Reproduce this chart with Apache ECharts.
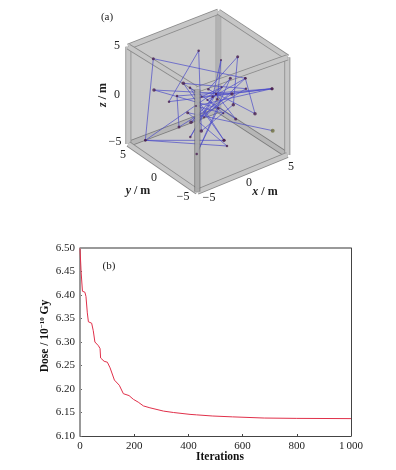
<!DOCTYPE html>
<html lang="en">
	<head>
		<meta charset="UTF-8">
		<title>Dose optimisation</title>
		<style type="text/css">
			html,body{
				margin:0;
				padding:0;
				background:#fff;
			}
			#main{
				width:396px;
				height:470px;
			}
		</style>
	</head>
	<body>
		<div id="main"></div>
		<script type="text/javascript" src="https://cdn.jsdelivr.net/npm/echarts@6/dist/echarts.min.js"></script>
		<script type="text/javascript">
		var FONT = '"Liberation Serif", serif';

		// (b) dose curve
		var iterations = [0,4,9,18,22,27,31,43,49,55,68,74,76,89,101,111,127,145,160,181,197,215,234,258,308,345,406,430,490,563,570,680,800,1000];
		var dose = [6.499,6.45,6.408,6.406,6.397,6.362,6.343,6.34,6.324,6.30,6.292,6.286,6.266,6.259,6.257,6.245,6.219,6.208,6.19,6.186,6.178,6.172,6.164,6.16,6.153,6.15,6.146,6.145,6.1425,6.1407,6.139,6.1382,6.1375,6.137];
		// grey left and top sides of the plot frame
		var frameX = [0,0,1000];
		var frameY = [6.10,6.50,6.50];

		// (a) picture plane positions of the box corners
		var cornerU = [385,115,592,322,115,592,322,385];
		var cornerV = [35,140,172,268,432,465,575,330];
		var backEdges = [[0,7]];
		var floorEdges = [[7,4],[7,5]];
		var topEdges = [[0,1],[0,2],[1,4],[2,5],[4,6],[5,6],[1,3],[2,3]];
		var frontEdges = [[3,6]];
		var outline = [1,0,2,5,6,4];

		// (a) picture plane positions of the route stops, in visiting order
		var stopU = [548,293,411,166,190,466,495,355,443,430,334,326,237,546,261,267,426,192,385,320,421,303,468,280,402,300,437,378,301,368,393,382,342,466,352,400,318,546,335,395,166,402];
		var stopV = [392,338,438,421,176,235,341,268,170,314,393,152,305,266,288,381,282,270,325,462,235,367,266,250,421,263,357,282,411,290,180,298,352,235,300,340,318,266,290,262,421,421];
		var stopSize = [4,3,2.5,2.5,3,2.5,3.5,2.5,3,3.5,3.5,2.5,2.5,3,2.5,3,3.5,3.5,2.5,2.5,3,3.5,2.5,3.5,3,2.5,3,2.5,2.5,2.5,2,2.5,2,2.5,2,2,2,3,2,2,2.5,3];

		var my_chart = echarts.init(document.getElementById("main"));

		function edgeSeries(list, outer, inner, z){
			return {
				type: 'custom',
				xAxisIndex: 2,
				yAxisIndex: 2,
				silent: true,
				clip: false,
				z: z,
				data: list,
				renderItem: function(params, api){
					var e = list[params.dataIndex];
					var a = api.coord([cornerU[e[0]], cornerV[e[0]]]);
					var b = api.coord([cornerU[e[1]], cornerV[e[1]]]);
					var shape = {x1:a[0], y1:a[1], x2:b[0], y2:b[1]};
					return {
						type: 'group',
						children: [
							{type:'line', shape:shape, style:{stroke:outer, lineWidth:6}},
							{type:'line', shape:shape, style:{stroke:inner, lineWidth:4.4}}
						]
					};
				}
			};
		}

		function label(text, x, y, size, extra){
			var el = {
				type: 'text',
				x: x,
				y: y,
				z: 50,
				style: {
					text: text,
					font: (size || 11) + 'px ' + FONT,
					fill: '#222',
					align: 'center',
					verticalAlign: 'middle'
				}
			};
			if (extra && extra.rich) el.style.rich = extra.rich;
			if (extra && extra.rotation) el.rotation = extra.rotation;
			return el;
		}

		var unitRich = {
			i: {font: 'italic bold 12px ' + FONT, fill: '#222'},
			b: {font: 'bold 12px ' + FONT, fill: '#222'}
		};
		var doseRich = {
			b: {font: 'bold 11.5px ' + FONT, fill: '#111'},
			s: {font: 'bold 7px ' + FONT, fill: '#111', padding: [0,0,6,0]}
		};

		var route = stopU.map(function(u, i){ return [u, stopV[i]]; });
		var curve = iterations.map(function(t, i){ return [t, dose[i]]; });
		var frame = frameX.map(function(t, i){ return [t, frameY[i]]; });

		var option = {
			animation: false,
			backgroundColor: '#fff',
			grid: [
				{left:80, top:248, width:271, height:188},
				{left:90, top:0, width:230, height:220}
			],
			xAxis: [
				{
					type: 'value', gridIndex: 0, position: 'bottom', min: 0, max: 1000, interval: 200,
					splitLine: {show:false},
					axisLine: {onZero:false, lineStyle:{color:'#444', width:1}},
					axisTick: {inside:true, length:2, lineStyle:{color:'#444'}},
					axisLabel: {
						color:'#222', fontFamily:FONT, fontSize:11, margin:5,
						formatter: function(v){ return v === 1000 ? '1\u2009000' : String(v); }
					}
				},
				{type:'value', gridIndex:1, min:0, max:690, show:false}
			],
			yAxis: [
				{
					type: 'value', gridIndex: 0, position: 'left', min: 6.10, max: 6.50, interval: 0.05,
					splitLine: {show:false},
					axisLine: {show:false},
					axisTick: {show:true, inside:true, length:2, lineStyle:{color:'#666'}},
					axisLabel: {
						color:'#222', fontFamily:FONT, fontSize:11, margin:5,
						formatter: function(v){ return v.toFixed(2); }
					}
				},
				{
					type: 'value', gridIndex: 0, position: 'right', min: 6.10, max: 6.50,
					splitLine: {show:false}, axisTick: {show:false}, axisLabel: {show:false},
					axisLine: {show:true, onZero:false, lineStyle:{color:'#444', width:1}}
				},
				{type:'value', gridIndex:1, min:0, max:660, inverse:true, show:false}
			],
			graphic: [
				label('(a)', 107, 17, 11),
				label('(b)', 109, 266, 11),
				label('5', 117, 46, 12),
				label('0', 117, 95, 12),
				label('\u22125', 115, 142, 12),
				label('5', 123, 155, 12),
				label('0', 154, 178, 12),
				label('\u22125', 183, 197, 12),
				label('\u22125', 209, 198, 12),
				label('0', 249, 183, 12),
				label('5', 291, 167, 12),
				label('{i|y}{b| / m}', 138, 191, 12, {rich:unitRich}),
				label('{i|x}{b| / m}', 265, 192, 12, {rich:unitRich}),
				label('{i|z}{b| / m}', 103, 95, 12, {rich:unitRich, rotation:Math.PI/2}),
				label('{b|Dose / 10}{s|\u221210}{b| Gy}', 45, 336, 11, {rich:doseRich, rotation:Math.PI/2}),
				{
					type: 'text', x: 220, y: 457, z: 50,
					style: {
						text: 'Iterations',
						font: 'bold 11.5px ' + FONT,
						fill: '#111',
						align: 'center',
						verticalAlign: 'middle'
					}
				}
			],
			series: [
				{
					type: 'custom',
					xAxisIndex: 1,
					yAxisIndex: 2,
					silent: true,
					clip: false,
					z: 1,
					data: [0],
					renderItem: function(params, api){
						return {
							type: 'polygon',
							shape: {points: outline.map(function(i){ return api.coord([cornerU[i], cornerV[i]]); })},
							style: {fill:'#c9c9c9'}
						};
					}
				},
				Object.assign(edgeSeries(backEdges, '#a8a8a8', '#b2b2b2', 2), {xAxisIndex:1}),
				Object.assign(edgeSeries(floorEdges, '#7c7c7c', '#b6b6b6', 2), {xAxisIndex:1}),
				Object.assign(edgeSeries(topEdges, '#8a8a8a', '#c6c6c6', 2), {xAxisIndex:1}),
				{
					type: 'line',
					xAxisIndex: 1,
					yAxisIndex: 2,
					data: route,
					symbol: 'none',
					silent: true,
					lineStyle: {color:'#4a4ac8', width:0.7},
					z: 3
				},
				Object.assign(edgeSeries(frontEdges, 'rgba(90,90,90,0.7)', 'rgba(185,185,185,0.8)', 4), {xAxisIndex:1}),
				{
					type: 'scatter',
					xAxisIndex: 1,
					yAxisIndex: 2,
					data: route,
					symbolSize: function(val, params){ return stopSize[params.dataIndex]; },
					silent: true,
					itemStyle: {
						color: function(params){ return params.dataIndex === 0 ? '#6f7040' : '#4a2050'; }
					},
					z: 5
				},
				{
					type: 'line',
					xAxisIndex: 0,
					yAxisIndex: 0,
					data: frame,
					symbol: 'none',
					silent: true,
					clip: false,
					lineStyle: {color:'#999', width:2},
					z: 5
				},
				{
					type: 'line',
					xAxisIndex: 0,
					yAxisIndex: 0,
					data: curve,
					symbol: 'none',
					silent: true,
					lineStyle: {color:'#e0304a', width:1},
					z: 6
				}
			]
		};
		my_chart.setOption(option);
		</script>
	</body>
</html>
